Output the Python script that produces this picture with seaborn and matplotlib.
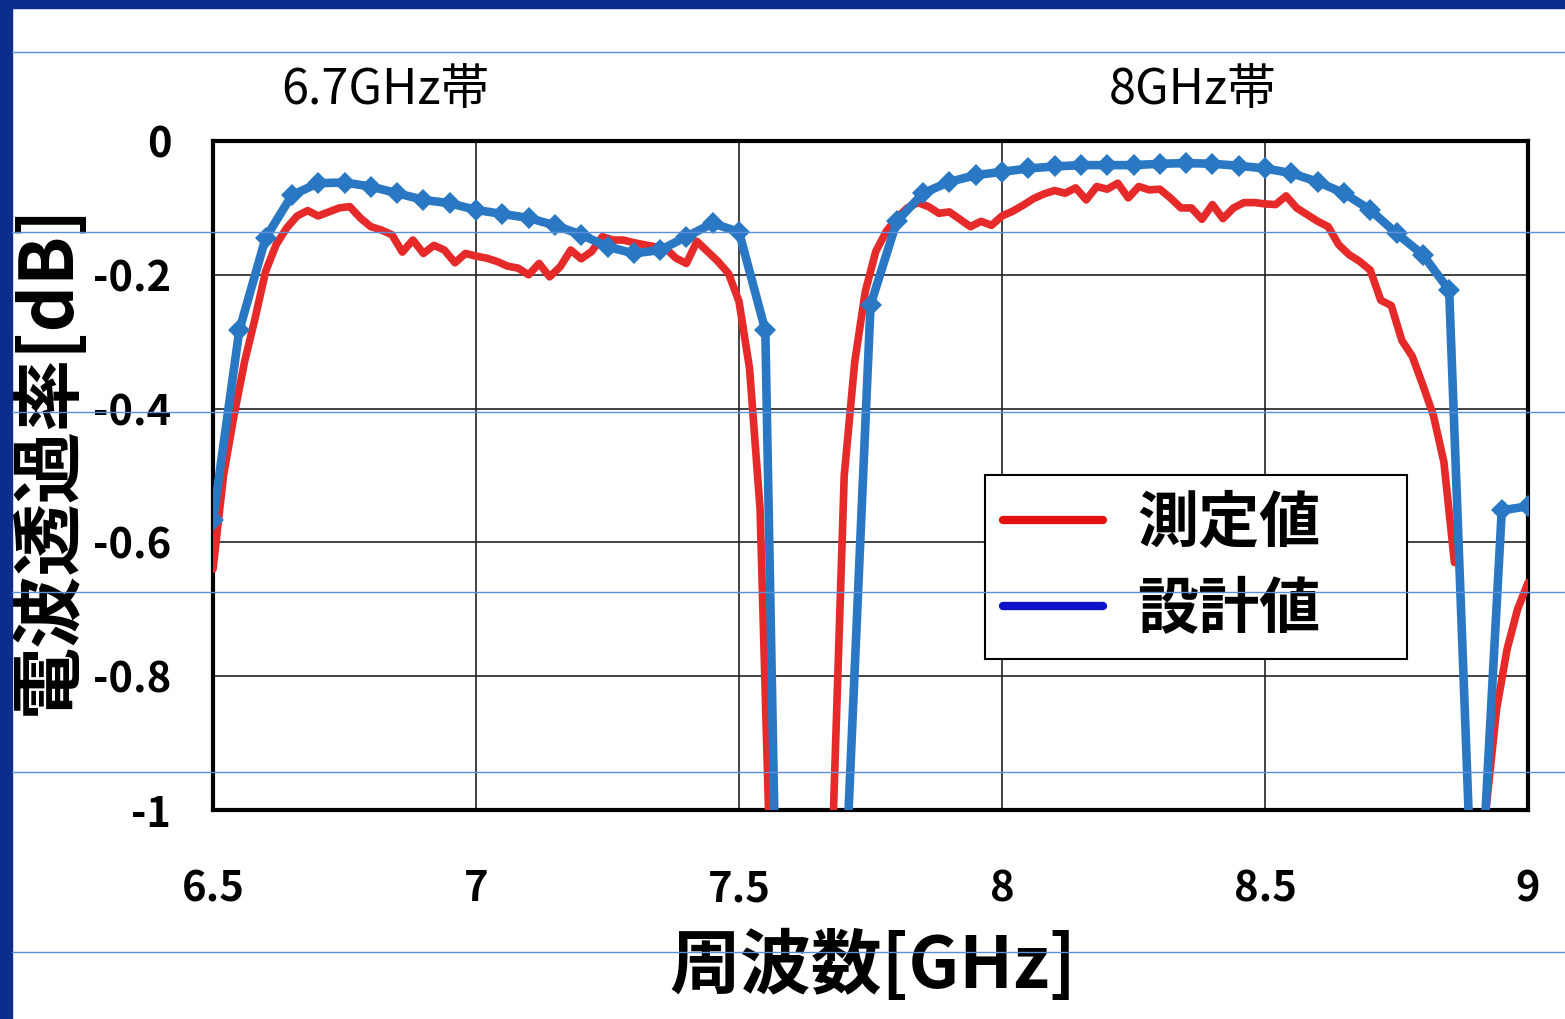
import numpy as np
import pandas as pd
import matplotlib
matplotlib.use('Agg')
import matplotlib.pyplot as plt
import seaborn as sns
from matplotlib.lines import Line2D
from matplotlib.patches import Rectangle
from matplotlib.transforms import blended_transform_factory

# measured transmission (red), sampled every 0.02 GHz from 6.5 to 9.0
meas_freq = np.linspace(6.5, 9.0, 126)
meas_db = [
    -0.64, -0.50, -0.41, -0.33, -0.265, -0.195, -0.155, -0.13, -0.112, -0.104,
    -0.112, -0.106, -0.100, -0.098, -0.115, -0.128, -0.133, -0.14, -0.166, -0.148,
    -0.168, -0.156, -0.163, -0.182, -0.168, -0.172, -0.175, -0.18, -0.187, -0.19,
    -0.20, -0.183, -0.203, -0.188, -0.163, -0.176, -0.165, -0.143, -0.148, -0.148,
    -0.152, -0.155, -0.158, -0.16, -0.175, -0.183, -0.15, -0.165, -0.18, -0.198,
    -0.24, -0.34, -0.55, -1.11, -1.9, -2.3, -2.4, -2.3, -1.9, -0.99,
    -0.50, -0.33, -0.225, -0.165, -0.135, -0.115, -0.10, -0.092, -0.098, -0.108,
    -0.106, -0.117, -0.128, -0.12, -0.126, -0.112, -0.105, -0.096, -0.086, -0.079,
    -0.074, -0.078, -0.07, -0.088, -0.068, -0.072, -0.063, -0.085, -0.068, -0.073,
    -0.072, -0.085, -0.10, -0.10, -0.117, -0.095, -0.116, -0.10, -0.092, -0.092,
    -0.094, -0.095, -0.082, -0.10, -0.11, -0.12, -0.128, -0.155, -0.17, -0.18,
    -0.193, -0.238, -0.246, -0.298, -0.322, -0.365, -0.41, -0.48, -0.63, np.nan,
    -1.5, -1.0, -0.85, -0.76, -0.70, -0.66,
]

# design values (blue), every 0.05 GHz
design_freq = np.linspace(6.5, 9.0, 51)
design_db = [
    -0.567, -0.283, -0.145, -0.081, -0.063, -0.062, -0.068, -0.078, -0.088, -0.093,
    -0.103, -0.109, -0.115, -0.126, -0.140, -0.158, -0.168, -0.163, -0.143, -0.123,
    -0.136, -0.283, -2.4, -3.0, -1.15, -0.245, -0.12, -0.078, -0.061, -0.051,
    -0.046, -0.041, -0.038, -0.036, -0.036, -0.036, -0.034, -0.033, -0.034, -0.037,
    -0.041, -0.048, -0.061, -0.078, -0.103, -0.138, -0.170, -0.223, -1.28, -0.552,
    -0.546,
]

x_ticks = [6.5, 7, 7.5, 8, 8.5, 9]
y_ticks = [0, -0.2, -0.4, -0.6, -0.8, -1]
band_labels = ['6.7GHz帯', '8GHz帯']
band_pos = [6.827, 8.363]
legend_labels = ['測定値', '設計値']

RED = '#e62a2a'
BLUE = '#2a78c4'

sns.set_theme(style='white')
plt.rcParams['font.family'] = ['Noto Sans CJK JP', 'DejaVu Sans']
plt.rcParams['text.color'] = 'black'
plt.rcParams['axes.labelcolor'] = 'black'
plt.rcParams['xtick.color'] = 'black'
plt.rcParams['ytick.color'] = 'black'

fig = plt.figure(figsize=(15.65, 10.19), dpi=100)
fig.set_facecolor('white')
ax = fig.add_axes([0.1361, 0.2051, 0.8403, 0.6565])

# measured curve, split where the data has a gap
meas = pd.DataFrame({'f': meas_freq, 'db': meas_db})
meas['seg'] = meas['db'].isna().cumsum()
meas = meas.dropna()
sns.lineplot(data=meas, x='f', y='db', units='seg', estimator=None, color=RED,
             linewidth=5.5, ax=ax, zorder=3, solid_capstyle='round')

# design curve with diamond markers
sns.lineplot(x=design_freq, y=design_db, color=BLUE, linewidth=6.2, marker='D',
             markersize=11, markeredgewidth=0, ax=ax, zorder=4)

ax.set_xlim(6.5, 9.0)
ax.set_ylim(-1, 0)
ax.set_xticks(x_ticks)
ax.set_yticks(y_ticks)
ax.set_xticklabels([f'{t:g}' for t in x_ticks], fontsize=30, fontweight='bold')
ax.set_yticklabels([f'{t:g}' for t in y_ticks], fontsize=30, fontweight='bold')
ax.tick_params(axis='x', length=0, pad=42, colors='black')
ax.tick_params(axis='y', length=0, pad=30, colors='black')

ax.grid(True, color='#222222', linewidth=1.2)
for s in ax.spines.values():
    s.set_visible(True)
    s.set_color('black')
    s.set_linewidth(3)

ax.set_xlabel('周波数[GHz]', fontsize=51, fontweight='bold', color='black')
ax.set_ylabel('電波透過率[dB]', fontsize=52, fontweight='bold', color='black')
ax.xaxis.set_label_coords(0.502, -0.18)
ax.yaxis.set_label_coords(-0.097, 0.525)

trans = blended_transform_factory(ax.transData, ax.transAxes)
for lab, xp in zip(band_labels, band_pos):
    ax.text(xp, 1.076, lab, transform=trans, ha='center', va='center',
            fontsize=35, color='black')

handles = [Line2D([], [], color='#e31212', linewidth=6),
           Line2D([], [], color='#0c12c8', linewidth=6)]
leg = ax.legend(handles, legend_labels, loc='upper left',
                bbox_to_anchor=(0.587, 0.223, 0.321, 0.278), mode='expand',
                prop={'size': 44, 'weight': 'bold'}, frameon=True, fancybox=False,
                edgecolor='black', framealpha=1, handlelength=1.64, handletextpad=0.55,
                borderpad=0.3, labelspacing=0.4, borderaxespad=0)
leg.get_frame().set_linewidth(1.5)
leg.set_zorder(6)

# slide decorations: navy border and thin guide lines
fig.add_artist(Rectangle((0, 0), 12 / 1565, 1, transform=fig.transFigure,
                         color='#0b2d8c', zorder=10))
fig.add_artist(Rectangle((0, 1 - 8 / 1019), 1, 8 / 1019, transform=fig.transFigure,
                         color='#0b2d8c', zorder=10))
for ypx in [52, 232, 412, 592, 772, 952]:
    yy = 1 - ypx / 1019
    fig.add_artist(Line2D([12 / 1565, 1], [yy, yy], transform=fig.transFigure,
                          color='#5b8fd9', linewidth=1, zorder=10))

fig.savefig('out.png', dpi=100)
